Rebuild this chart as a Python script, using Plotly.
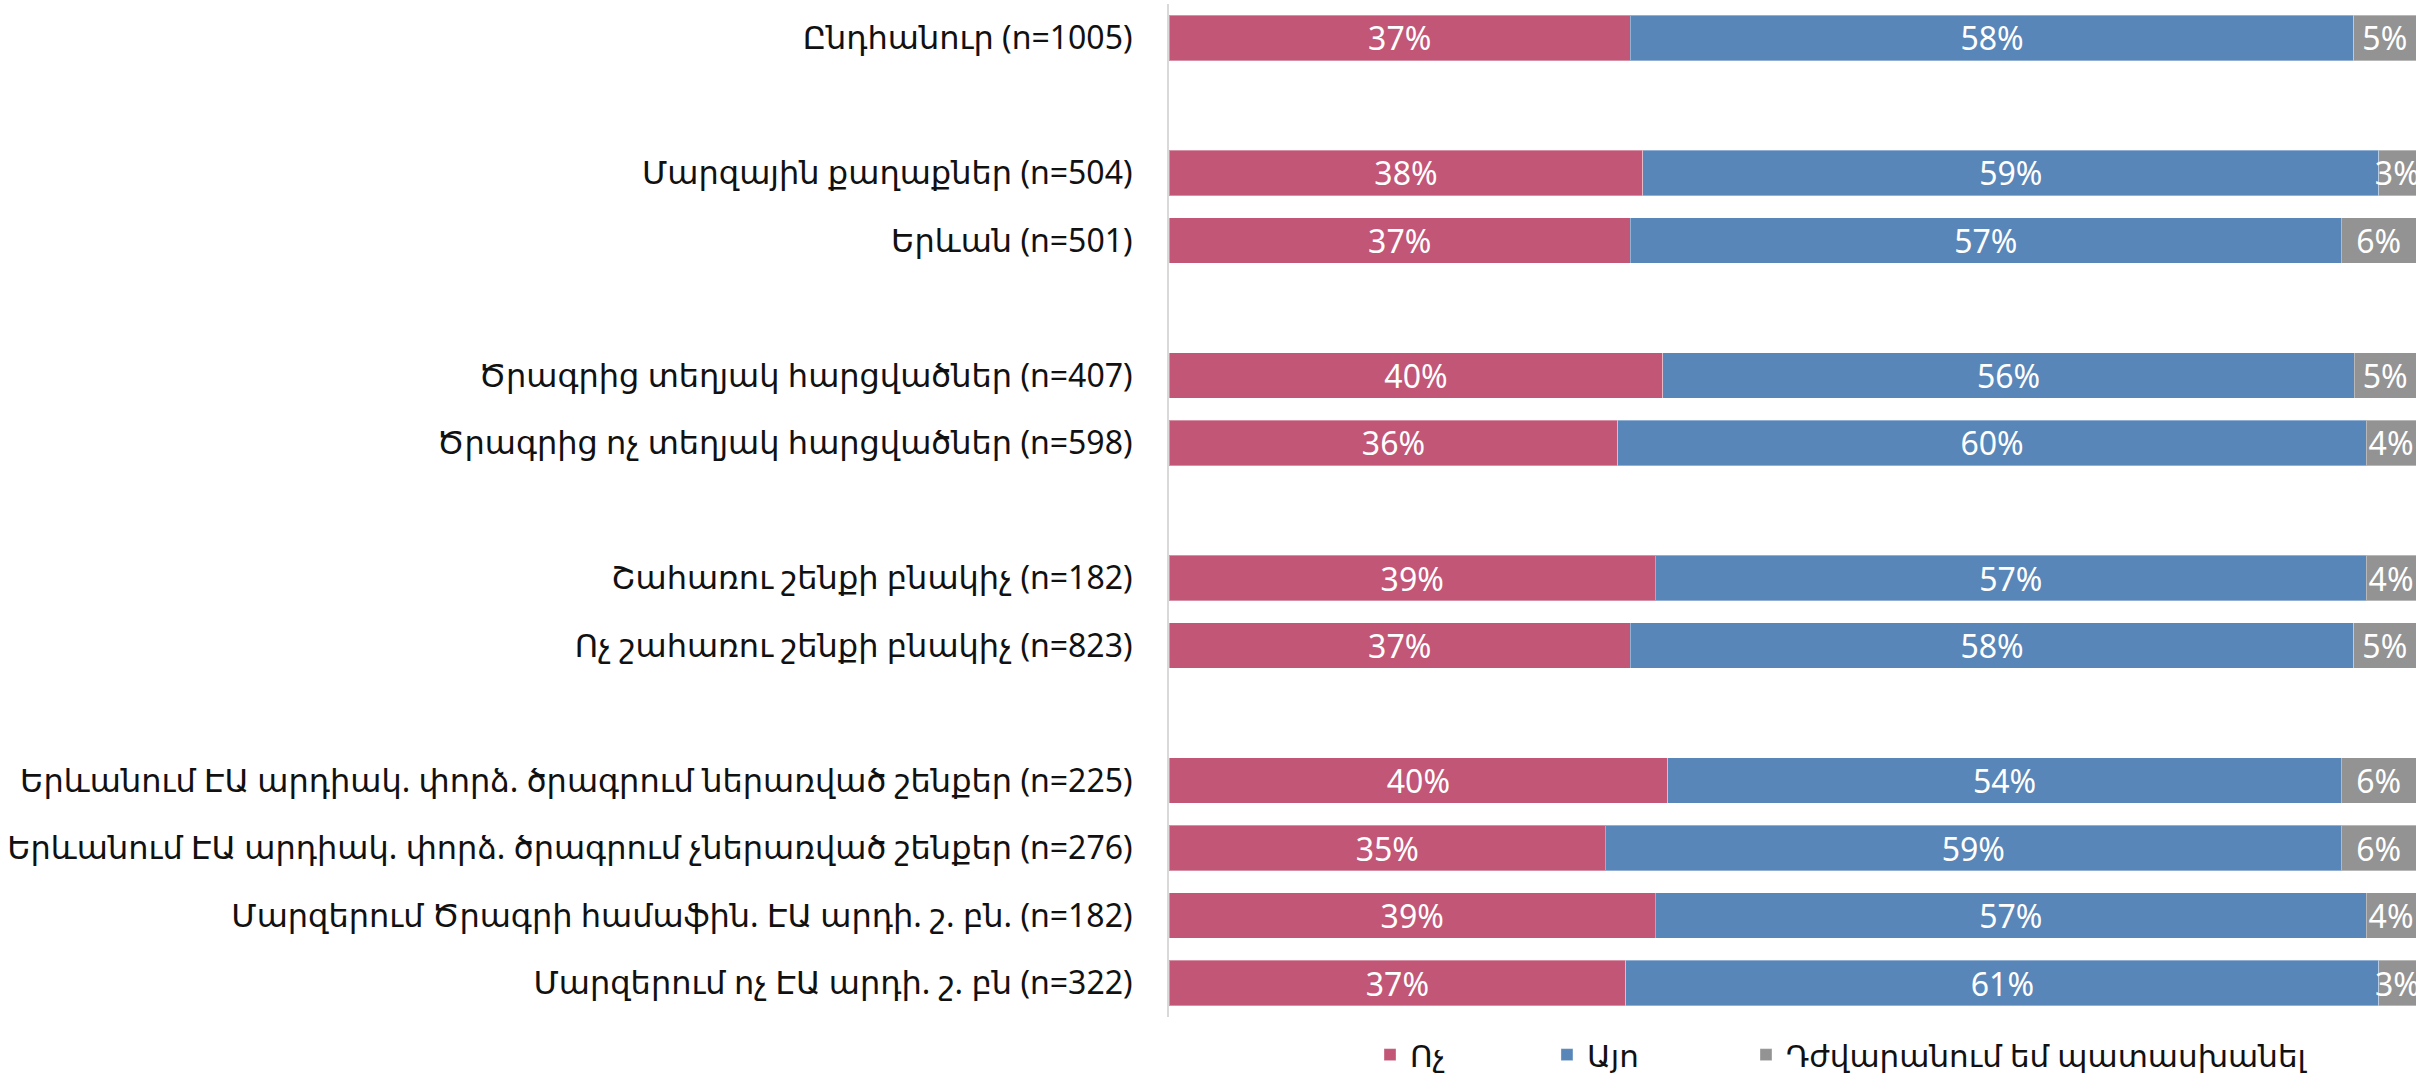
import plotly.graph_objects as go

# rows (blank strings are the spacer rows between groups)
categories = [
    "Ընդհանուր (n=1005)",
    " ",
    "Մարզային քաղաքներ (n=504)",
    "Երևան (n=501)",
    "  ",
    "Ծրագրից տեղյակ հարցվածներ (n=407)",
    "Ծրագրից ոչ տեղյակ հարցվածներ (n=598)",
    "   ",
    "Շահառու շենքի բնակիչ (n=182)",
    "Ոչ շահառու շենքի բնակիչ (n=823)",
    "    ",
    "Երևանում ԷԱ արդիակ. փորձ. ծրագրում ներառված շենքեր (n=225)",
    "Երևանում ԷԱ արդիակ. փորձ. ծրագրում չներառված շենքեր (n=276)",
    "Մարզերում Ծրագրի համաֆին. ԷԱ արդի. շ. բն. (n=182)",
    "Մարզերում ոչ ԷԱ արդի. շ. բն (n=322)",
]
rows = [c for c in categories if c.strip()]

no_vals = [37, 38, 37, 40, 36, 39, 37, 40, 35, 39, 37]
yes_vals = [58, 59, 57, 56, 60, 57, 58, 54, 59, 57, 61]
dk_vals = [5, 3, 6, 5, 4, 4, 5, 6, 6, 4, 3]

series = [
    ("Ոչ", no_vals, "#C25677", "legend", 0.1612),
    ("Այո", yes_vals, "#5886B8", "legend2", 0.3031),
    ("Դժվարանում եմ պատասխանել", dk_vals, "#939393", "legend3", 0.4627),
]

FONT = "Noto Sans, DejaVu Sans, sans-serif"
TXT = "#111111"

fig = go.Figure()
legends = {}
for name, vals, color, leg, lx in series:
    fig.add_trace(go.Bar(
        y=rows,
        x=vals,
        name=name,
        orientation="h",
        legend=leg,
        marker=dict(color=color, line=dict(color="rgba(255,255,255,0.35)", width=1)),
        text=[f"{v}%" for v in vals],
        textposition="inside",
        insidetextanchor="middle",
        textangle=0,
        constraintext="none",
        textfont=dict(color="white", size=32, family=FONT),
        cliponaxis=False,
    ))
    # one legend per series so each entry can sit where the reference has it
    legends[leg] = dict(
        orientation="h",
        x=lx,
        xanchor="left",
        y=-0.0375,
        yanchor="middle",
        font=dict(size=31, family=FONT, color=TXT),
        bgcolor="rgba(0,0,0,0)",
    )

fig.update_layout(
    barmode="stack",
    barnorm="percent",
    bargap=0.326,
    width=2435,
    height=1076,
    margin=dict(l=1169, r=19, t=4, b=59, autoexpand=False),
    paper_bgcolor="white",
    plot_bgcolor="white",
    font=dict(family=FONT, size=32, color=TXT),
    showlegend=True,
    **legends,
)
fig.update_xaxes(range=[0, 100], visible=False, showgrid=False)
fig.update_yaxes(
    type="category",
    categoryorder="array",
    categoryarray=categories,
    range=[len(categories) - 0.5, -0.5],
    automargin=False,
    showgrid=False,
    showline=True,
    linecolor="#D9D9D9",
    linewidth=2,
    ticks="",
    ticklabelstandoff=28,
    tickfont=dict(size=32, family=FONT, color=TXT),
)

# drop the default page margin so the figure sits at the top-left corner
fig.write_html(
    "out.html",
    config={"displayModeBar": False},
    post_script="document.body.style.margin='0';",
)
